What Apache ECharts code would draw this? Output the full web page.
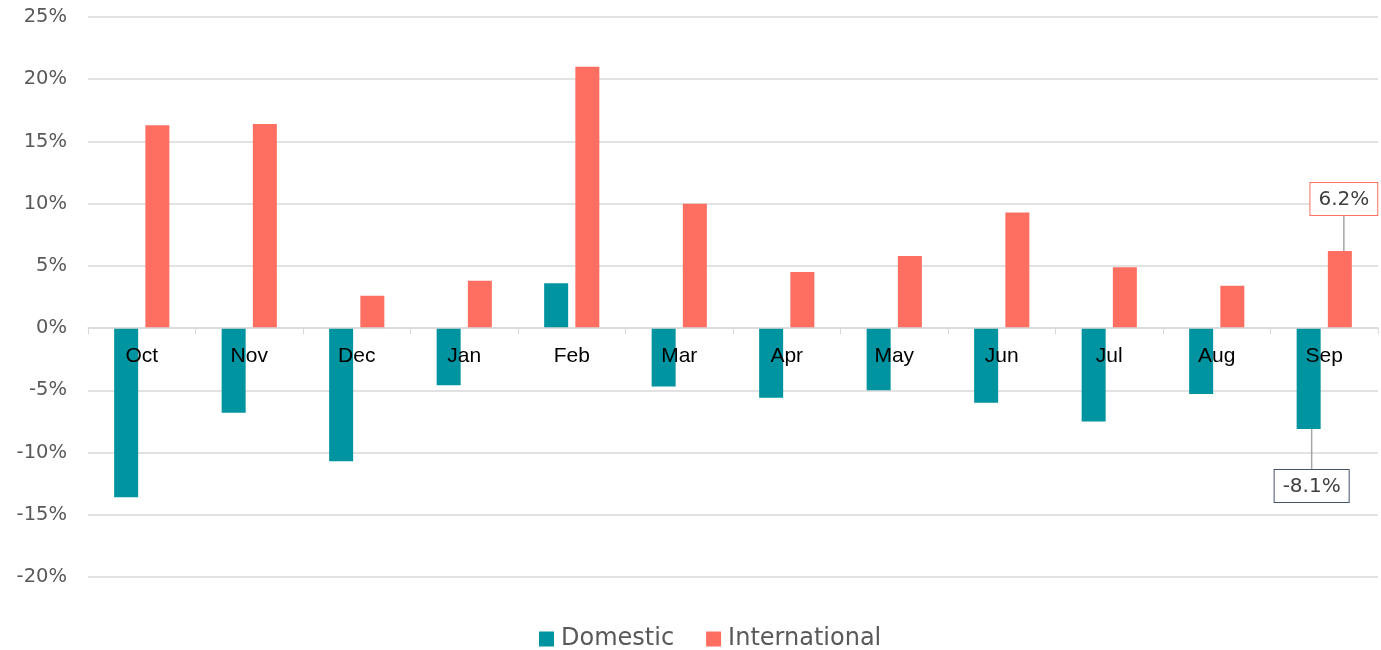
<!DOCTYPE html>
<html><head><meta charset="utf-8">
<script src="https://cdn.jsdelivr.net/npm/echarts@6/dist/echarts.min.js"></script>
<style>html,body{margin:0;padding:0;background:#fff}#c{width:1381px;height:650px}</style>
</head><body><div id="c"></div>
<script>
const categories = ['Oct','Nov','Dec','Jan','Feb','Mar','Apr','May','Jun','Jul','Aug','Sep'];
const domestic = [-13.6, -6.8, -10.7, -4.6, 3.6, -4.7, -5.6, -5.0, -6.0, -7.5, -5.3, -8.1];
const international = [16.3, 16.4, 2.6, 3.8, 21.0, 10.0, 4.5, 5.8, 9.3, 4.9, 3.4, 6.2];
const yTicks = {min: -20, max: 25, interval: 5};
const last = categories.length - 1;

const chart = echarts.init(document.getElementById('c'));
const catFont = 'Liberation Sans, Arial, sans-serif';
const uiFont = 'DejaVu Sans, sans-serif';
function calloutLabel(borderColor) {
  return {
    show: true,
    formatter: p => p.value.toFixed(1) + '%',
    color: '#404040', fontSize: 20, fontFamily: uiFont,
    backgroundColor: '#fff', borderColor: borderColor, borderWidth: 1,
    padding: [7, 8, 5, 8]
  };
}
chart.setOption({
  animation: false,
  grid: {left: 88, right: 3, top: 17, bottom: 73},
  legend: {
    top: 622, left: 534, itemWidth: 15, itemHeight: 15, itemGap: 32,
    icon: 'rect',
    textStyle: {color: '#595959', fontSize: 24, fontFamily: uiFont, padding: [0, 0, 0, 2]}
  },
  xAxis: {
    type: 'category', data: categories, z: 10,
    axisLine: {onZero: true, lineStyle: {color: '#d9d9d9', width: 1.5}},
    axisTick: {show: true, length: 6, lineStyle: {color: '#d9d9d9'}},
    axisLabel: {color: '#000', fontSize: 21, fontFamily: catFont, margin: -231},
    splitLine: {show: false}
  },
  yAxis: {
    type: 'value', min: yTicks.min, max: yTicks.max, interval: yTicks.interval,
    axisLine: {show: false}, axisTick: {show: false},
    axisLabel: {formatter: v => v + '%', color: '#595959', fontSize: 19.5, fontFamily: uiFont, margin: 21},
    splitLine: {lineStyle: {color: '#d9d9d9', width: 1.5}}
  },
  series: [
    {
      name: 'Domestic', type: 'bar', barWidth: 24, barGap: '30%',
      itemStyle: {color: '#0093A0'},
      data: domestic.map((v, i) => i === last ? {value: v, label: Object.assign(calloutLabel('#44546A'), {position: 'bottom'}), labelLine: {show: true, lineStyle: {color: '#a6a6a6', width: 1.5}}} : v),
      labelLayout: p => p.dataIndex === last ? {dy: 36, dx: 3} : {}
    },
    {
      name: 'International', type: 'bar', barWidth: 24,
      itemStyle: {color: '#FF6F61'},
      data: international.map((v, i) => i === last ? {value: v, label: Object.assign(calloutLabel('#FF6F61'), {position: 'top'}), labelLine: {show: true, lineStyle: {color: '#a6a6a6', width: 1.5}}} : v),
      labelLayout: p => p.dataIndex === last ? {dy: -31, dx: 4} : {}
    }
  ]
});
</script></body></html>
